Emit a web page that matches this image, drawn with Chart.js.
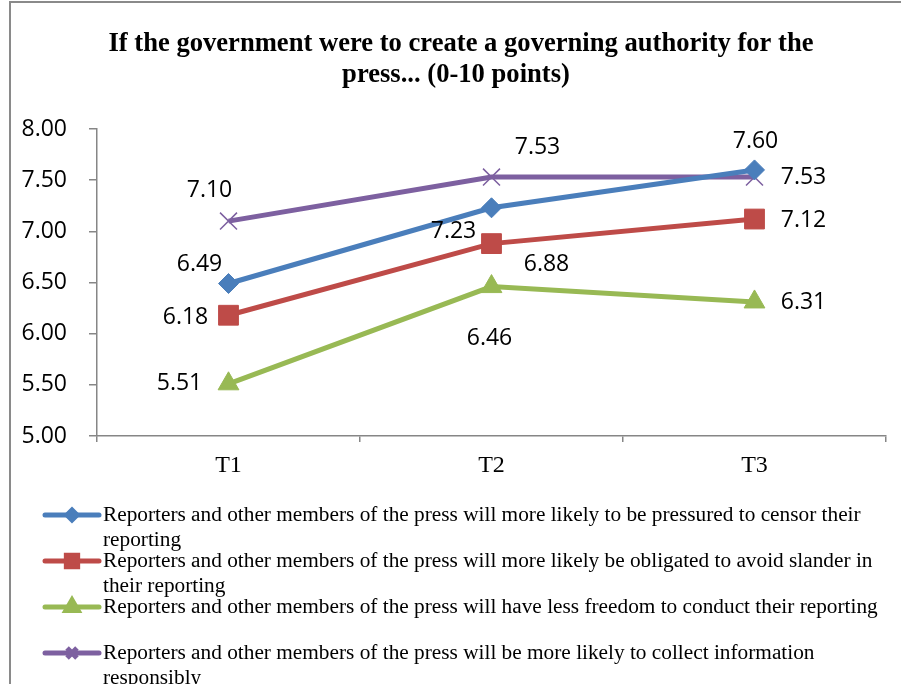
<!DOCTYPE html>
<html>
<head>
<meta charset="utf-8">
<script src="https://cdn.jsdelivr.net/npm/chart.js@4/dist/chart.umd.min.js"></script>
<style>
  html, body { margin: 0; padding: 0; background: #ffffff; }
  #wrap { width: 901px; height: 684px; position: relative; }
</style>
</head>
<body>
<div id="wrap"><canvas id="c" width="901" height="684"></canvas></div>
<script>
// ---- data ----
const categories = ['T1', 'T2', 'T3'];
const pressured   = [6.49, 7.23, 7.60];
const slander     = [6.18, 6.88, 7.12];
const lessFreedom = [5.51, 6.46, 6.31];
const responsibly = [7.10, 7.53, 7.53];
const seriesNames = [
  'Reporters and other members of the press will more likely to be pressured to censor their reporting',
  'Reporters and other members of the press will more likely be obligated to avoid slander in their reporting',
  'Reporters and other members of the press will have less freedom to conduct their reporting',
  'Reporters and other members of the press will be more likely to collect information responsibly'
];
const titleLines = ['If the government were to create a governing authority for the', 'press... (0-10 points)'];
const yMin = 5, yMax = 8, yStep = 0.5;

// ---- styles ----
const colors = ['#4A7EBB', '#BE4B48', '#98B954', '#7D60A0'];
const pointStyles = ['rectRot', 'rect', 'triangle', 'crossRot'];
const pointRadii = [10, 14, 12, 12];
const legendRadii = [5, 8, 7, 7];
// label offsets (px) relative to each point
const labelOffsets = [
  [[-29, -19], [-38, 24], [1, -28]],
  [[-43, 2], [55, 21], [49, 1]],
  [[-49, 0], [-2, 52], [49, 1]],
  [[-19, -31], [46, -30], [49, 0]]
];
const sansFont = '"Open Sans", "Liberation Sans", sans-serif';
const serifFont = '"Liberation Serif", "Times New Roman", serif';

const seriesValues = [pressured, slander, lessFreedom, responsibly];
const datasets = seriesValues.map((vals, i) => ({
  label: seriesNames[i],
  data: vals,
  borderColor: colors[i],
  backgroundColor: colors[i],
  borderWidth: 5,
  pointStyle: pointStyles[i],
  pointRadius: pointRadii[i],
  pointHoverRadius: pointRadii[i],
  pointBackgroundColor: colors[i],
  pointBorderColor: colors[i],
  pointBorderWidth: i === 3 ? 1.5 : 1,
  tension: 0,
  fill: false
}));

const framePlugin = {
  id: 'frame',
  beforeDraw(chart) {
    const ctx = chart.ctx;
    ctx.save();
    ctx.fillStyle = '#ffffff';
    ctx.fillRect(0, 0, chart.width, chart.height);
    ctx.strokeStyle = '#8a8a8a';
    ctx.lineWidth = 2;
    ctx.strokeRect(10, 2, 1200, 1200);
    // title
    ctx.fillStyle = '#000000';
    ctx.font = 'bold 26.6px ' + serifFont;
    ctx.textAlign = 'center';
    ctx.textBaseline = 'middle';
    ctx.fillText(titleLines[0], 461, 44);
    ctx.fillText(titleLines[1], 456, 75);
    ctx.restore();
  }
};

const labelPlugin = {
  id: 'valueLabels',
  afterDatasetsDraw(chart) {
    const ctx = chart.ctx;
    ctx.save();
    ctx.fillStyle = '#000000';
    ctx.font = '23px ' + sansFont;
    ctx.textAlign = 'center';
    ctx.textBaseline = 'middle';
    chart.data.datasets.forEach((ds, di) => {
      const meta = chart.getDatasetMeta(di);
      meta.data.forEach((pt, pi) => {
        const off = labelOffsets[di][pi];
        ctx.fillText(ds.data[pi].toFixed(2), pt.x + off[0], pt.y + off[1]);
      });
    });
    ctx.restore();
  }
};

function wrapText(ctx, text, maxW) {
  const words = text.split(' ');
  const lines = [];
  let cur = '';
  words.forEach(w => {
    const test = cur ? cur + ' ' + w : w;
    if (ctx.measureText(test).width > maxW && cur) {
      lines.push(cur);
      cur = w;
    } else {
      cur = test;
    }
  });
  if (cur) lines.push(cur);
  return lines;
}

const legendPlugin = {
  id: 'customLegend',
  afterDraw(chart) {
    const ctx = chart.ctx;
    ctx.save();
    const rowY0 = 515, rowGap = 46, lineH = 25;
    chart.data.datasets.forEach((ds, i) => {
      const y = rowY0 + i * rowGap;
      ctx.strokeStyle = ds.borderColor;
      ctx.lineWidth = 5;
      ctx.lineCap = 'round';
      ctx.beginPath();
      ctx.moveTo(45, y);
      ctx.lineTo(99, y);
      ctx.stroke();
      const opts = {
        pointStyle: ds.pointStyle,
        radius: legendRadii[i],
        borderWidth: ds.pointStyle === 'crossRot' ? 1.5 : 1,
        rotation: 0
      };
      ctx.fillStyle = ds.borderColor;
      ctx.strokeStyle = ds.borderColor;
      ctx.lineCap = 'butt';
      if (Chart.helpers && Chart.helpers.drawPoint) {
        Chart.helpers.drawPoint(ctx, opts, 72, y);
      }
      ctx.fillStyle = '#000000';
      ctx.font = '21.3px ' + serifFont;
      ctx.textAlign = 'left';
      ctx.textBaseline = 'middle';
      const lines = wrapText(ctx, ds.label, 795);
      lines.forEach((ln, k) => ctx.fillText(ln, 103, y + k * lineH));
    });
    ctx.restore();
  }
};

new Chart(document.getElementById('c'), {
  type: 'line',
  data: { labels: categories, datasets },
  options: {
    responsive: false,
    devicePixelRatio: 1,
    animation: false,
    events: [],
    layout: { padding: { left: 0, top: 129, right: 12, bottom: 0 } },
    plugins: {
      legend: { display: false },
      title: { display: false },
      tooltip: { enabled: false }
    },
    scales: {
      x: {
        offset: true,
        grid: { offset: true, drawOnChartArea: false, drawTicks: true, tickLength: 6, color: '#868686', lineWidth: 1.5 },
        border: { color: '#868686', width: 1.5 },
        ticks: { color: '#000000', font: { family: serifFont, size: 24 }, padding: 9 },
        afterFit(scale) { scale.height = 684 - 436; }
      },
      y: {
        min: yMin,
        max: yMax,
        grid: { drawOnChartArea: false, drawTicks: true, tickLength: 8, color: '#868686', lineWidth: 1.5 },
        border: { color: '#868686', width: 1.5 },
        ticks: {
          stepSize: yStep,
          color: '#000000',
          padding: 22,
          font: { family: sansFont, size: 23 },
          callback: v => Number(v).toFixed(2)
        },
        afterFit(scale) { scale.width = 97; }
      }
    }
  },
  plugins: [framePlugin, labelPlugin, legendPlugin]
});
</script>
</body>
</html>
